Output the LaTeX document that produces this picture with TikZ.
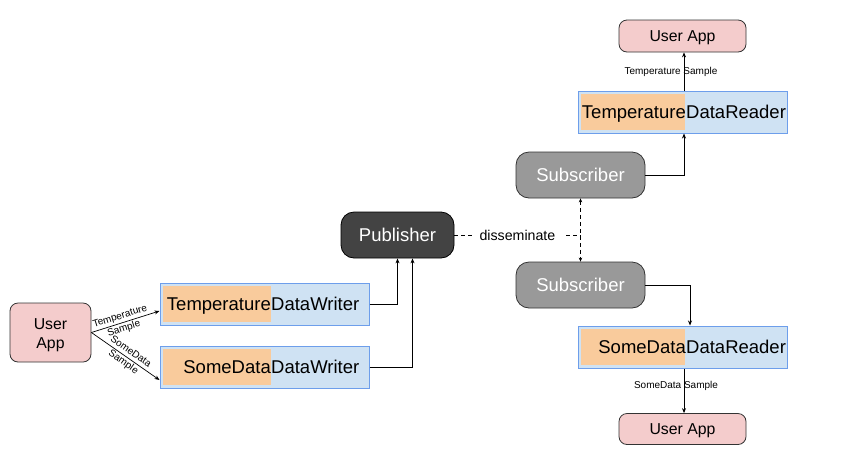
\documentclass[tikz,border=0pt]{standalone}
\usepackage{fontspec}
\setmainfont{Liberation Sans}
\usetikzlibrary{arrows.meta,calc}
\definecolor{pinkf}{HTML}{F4CCCC}
\definecolor{bluef}{HTML}{CFE2F3}
\definecolor{blued}{HTML}{6D9EEB}
\definecolor{orangef}{HTML}{F9CB9C}
\definecolor{pubf}{HTML}{434343}
\definecolor{subf}{HTML}{999999}
\tikzset{
  appbox/.style={draw=black!80, fill=pinkf, rounded corners=8pt, line width=0.8pt, inner sep=0pt, font=\fontsize{15.8}{19}\selectfont, align=center},
  dwbox/.style={draw=blued, fill=bluef, line width=1pt, minimum width=209pt, minimum height=42pt, inner sep=0pt},
  bigtxt/.style={font=\fontsize{18.5}{22}\selectfont, inner sep=0pt},
  pubbox/.style={draw=black, fill=pubf, text=white, rounded corners=13pt, line width=0.8pt, minimum width=113pt, minimum height=46pt, inner sep=0pt, font=\fontsize{18.5}{22}\selectfont},
  subbox/.style={draw=black!80, fill=subf, text=white, rounded corners=13pt, line width=0.8pt, minimum width=129pt, minimum height=46pt, inner sep=0pt, font=\fontsize{18.5}{22}\selectfont},
  arr/.style={-{Stealth[length=5pt,width=4pt]}, line width=0.7pt},
  smalllbl/.style={font=\fontsize{10}{13}\selectfont, inner sep=0.5pt},
}
\begin{document}
\begin{tikzpicture}[x=1pt,y=-1pt]
\useasboundingbox (0,0) rectangle (859,456);
% user app left
\node[appbox, minimum width=81pt, minimum height=59pt] (uapp) at (50.5,332.5) {};
\node[font=\fontsize{15.8}{19}\selectfont, align=center, inner sep=0pt] (uapptxt) at (50.5,335) {User\\App};
% writers
\node[dwbox] (tdw) at (264.5,304) {};
\fill[orangef] (163,286) rectangle (271,322);
\node[bigtxt, anchor=base east] (tdwa) at (271,310.5) {Temperature};
\node[bigtxt, anchor=base west] (tdwb) at (271,310.5) {DataWriter};
\node[dwbox] (sdw) at (264.5,367) {};
\fill[orangef] (163,349) rectangle (271,385);
\node[bigtxt, anchor=base east] (sdwa) at (271,373.5) {SomeData};
\node[bigtxt, anchor=base west] (sdwb) at (271,373.5) {DataWriter};
% publisher
\node[pubbox] (pub) at (397.5,235) {Publisher};
% subscribers
\node[subbox] (sub1) at (580.5,175) {Subscriber};
\node[subbox] (sub2) at (580.5,285) {Subscriber};
% readers
\node[dwbox] (tdr) at (682.5,112) {};
\fill[orangef] (581,94) rectangle (685,130);
\node[bigtxt, anchor=base east] (tdra) at (686,118.5) {Temperature};
\node[bigtxt, anchor=base west] (tdrb) at (686,118.5) {DataReader};
\node[dwbox] (sdr) at (682.5,347) {};
\fill[orangef] (581,329) rectangle (685,365);
\node[bigtxt, anchor=base east] (sdra) at (686,353.5) {SomeData};
\node[bigtxt, anchor=base west] (sdrb) at (686,353.5) {DataReader};
% user apps right
\node[appbox, minimum width=127pt, minimum height=32pt] (ua1) at (682.5,36) {};
\node[font=\fontsize{15.8}{19}\selectfont, inner sep=0pt, anchor=base] (ua1txt) at (682.5,41.5) {User App};
\node[appbox, minimum width=127pt, minimum height=31pt] (ua2) at (682.5,429) {};
\node[font=\fontsize{15.8}{19}\selectfont, inner sep=0pt, anchor=base] (ua2txt) at (682.5,434) {User App};
% connectors
\draw[arr] (uapp.east) -- node[smalllbl, sloped, pos=0.45, align=center] {Temperature\\Sample} ([yshift=-7pt]tdw.west);
\draw[arr] (uapp.east) -- node[smalllbl, sloped, pos=0.52, align=center] {SomeData\\Sample} ([yshift=-13pt]sdw.west);
\draw[arr] (tdw.east) -| (pub.south);
\draw[arr] (sdw.east) -| ([xshift=15pt]pub.south);
\coordinate (dj) at (sub1.south |- pub.east);
\draw[dash pattern=on 4pt off 3pt, line width=0.7pt] (pub.east) -- node[fill=white, font=\fontsize{14.2}{16}\selectfont, inner xsep=8pt, inner ysep=2pt] {disseminate} (dj);
\draw[dash pattern=on 4pt off 3pt, line width=0.7pt, {Stealth[length=4pt,width=3.5pt]}-{Stealth[length=4pt,width=3.5pt]}] (sub1.south) -- (sub2.north);
\draw[arr] (sub1.east) -| ([xshift=1.5pt]tdr.south);
\draw[arr] (sub2.east) -| ([xshift=7.5pt]sdr.north);
\draw[arr] ([xshift=1.5pt]tdr.north) -- node[smalllbl, pos=0.5, xshift=-13pt] {Temperature Sample} ([xshift=1.5pt]ua1.south);
\draw[arr] ([xshift=1.5pt]sdr.south) -- node[smalllbl, pos=0.38, xshift=-8pt] {SomeData Sample} ([xshift=1.5pt]ua2.north);
\end{tikzpicture}
\end{document}
